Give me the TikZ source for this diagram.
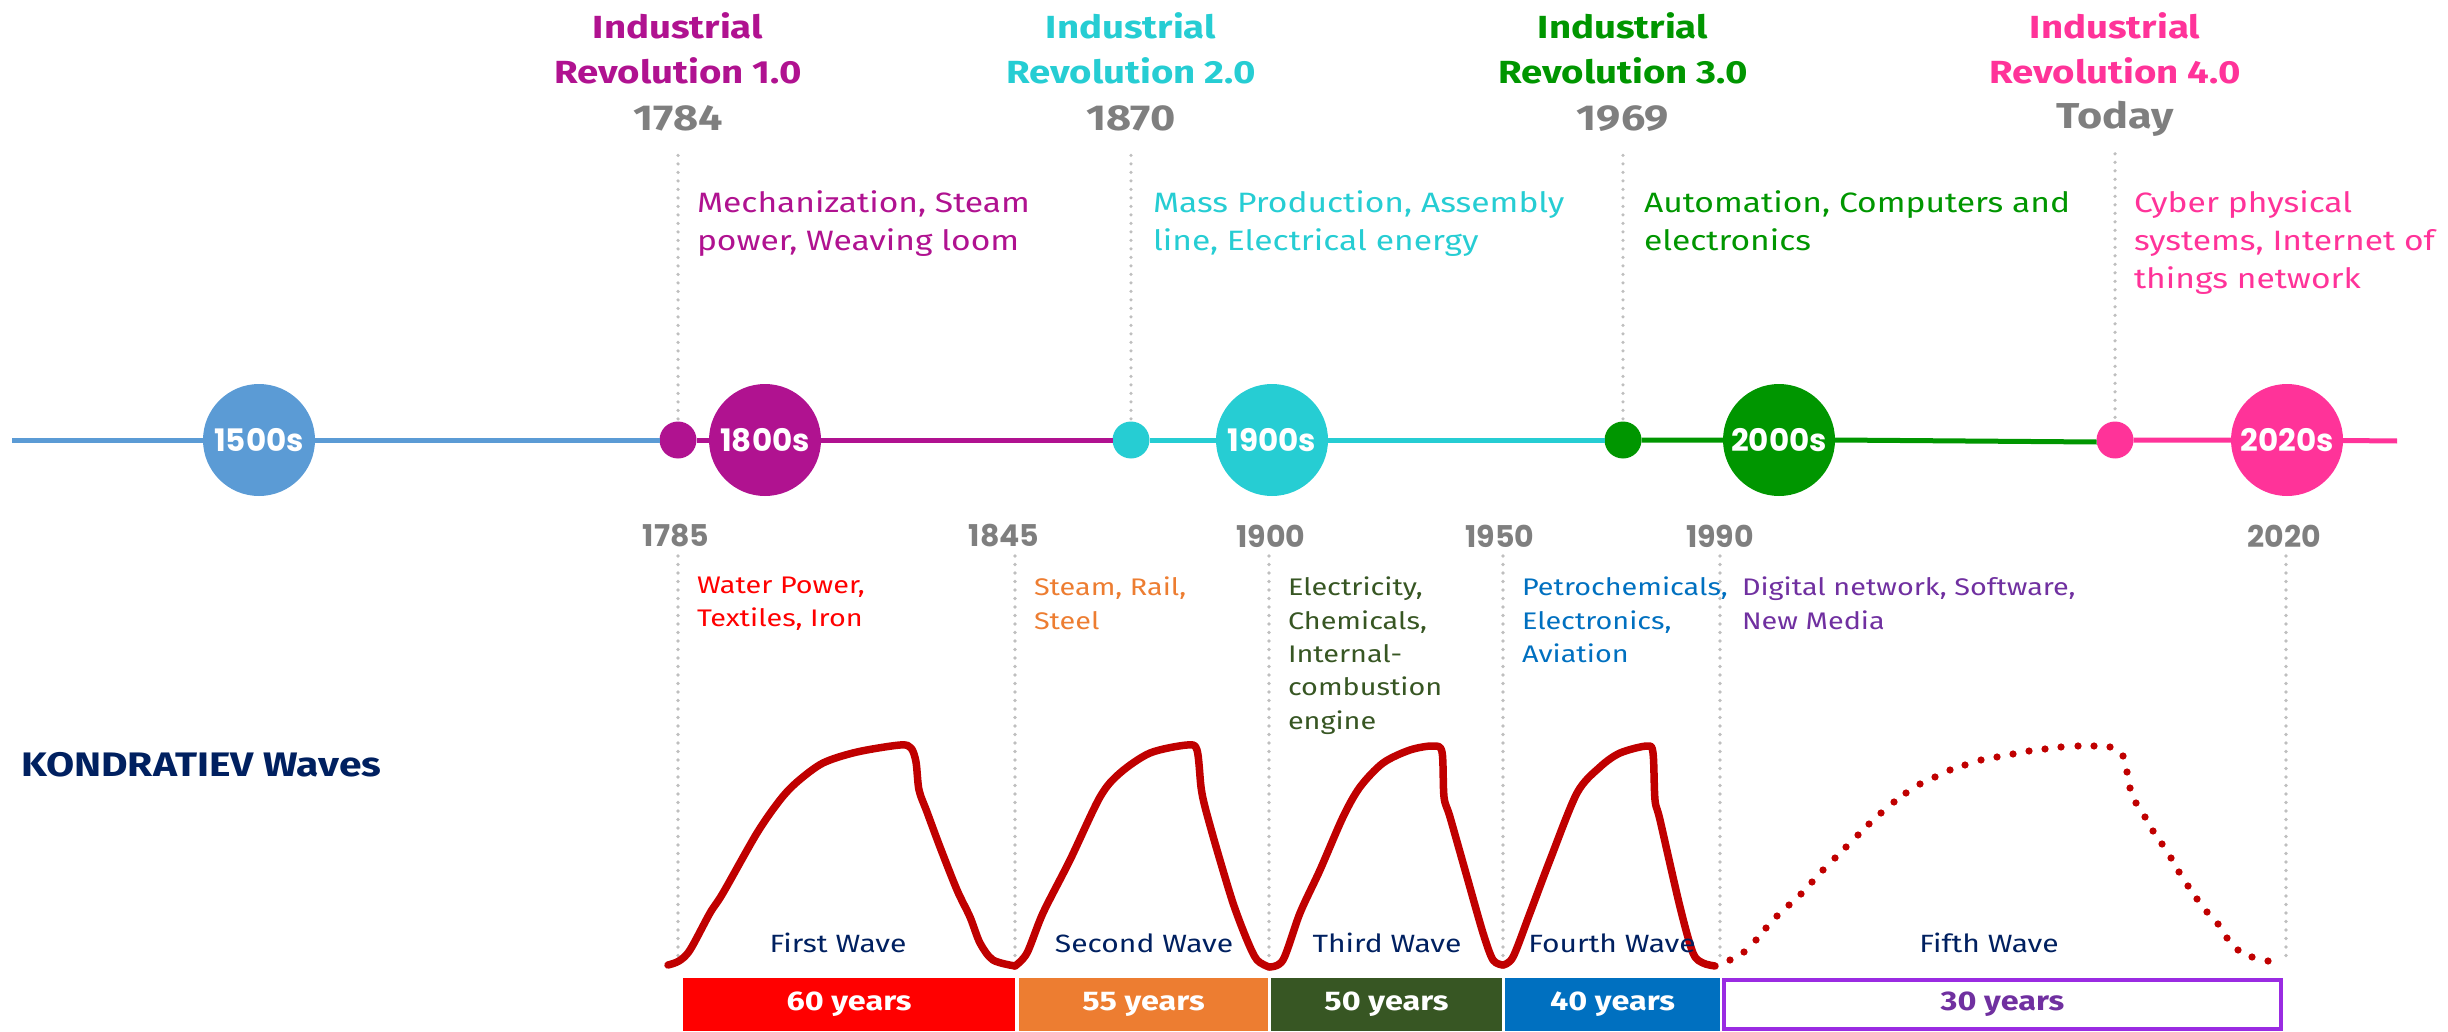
\documentclass[tikz,border=0pt]{standalone}
\usepackage{fontspec}
\usetikzlibrary{positioning}
\newfontfamily\kanit{Fira Sans}[FakeStretch=1.2]
\newfontfamily\mont{Poppins}
\definecolor{erablue}{HTML}{5B9BD5}
\definecolor{ir1}{HTML}{B01290}
\definecolor{ir2}{HTML}{26CDD3}
\definecolor{ir3}{HTML}{009600}
\definecolor{ir4}{HTML}{FF3399}
\definecolor{yeargray}{HTML}{7F7F7F}
\definecolor{guidegray}{HTML}{BFBFBF}
\definecolor{wavered}{HTML}{C00000}
\definecolor{kw1}{HTML}{FF0000}
\definecolor{kw2}{HTML}{ED7D31}
\definecolor{kw3}{HTML}{375623}
\definecolor{kw4}{HTML}{0070C0}
\definecolor{kw5}{HTML}{7030A0}
\definecolor{kw5box}{HTML}{9A2BE2}
\definecolor{navy}{HTML}{002060}

\begin{document}
\begin{tikzpicture}[x=1pt, y=-1pt,
    every node/.style={inner sep=0pt, outer sep=0pt},
    era/.style={circle, fill=#1, minimum size=112pt, text=white, font=\mont\bfseries\fontsize{31}{31}\selectfont},
    smalldot/.style={circle, fill=#1, minimum size=37pt},
    timeline/.style={draw=#1, line width=5pt},
    guide/.style={draw=guidegray, line width=3.6pt, line cap=round, dash pattern=on 0pt off 8.5pt},
    revtitle/.style={text=#1, align=center, anchor=north, font=\kanit\bfseries\fontsize{32}{45}\selectfont},
    topyear/.style={text=yeargray, font=\kanit\bfseries\fontsize{36}{36}\selectfont},
    botyear/.style={text=yeargray, font=\mont\bfseries\fontsize{30}{30}\selectfont},
    topdesc/.style={text=#1, anchor=north west, align=left, font=\kanit\fontsize{28}{38}\selectfont},
    wavedesc/.style={text=#1, anchor=north west, align=left, font=\kanit\fontsize{24}{33.4}\selectfont},
    wavename/.style={text=navy, font=\kanit\fontsize{25}{25}\selectfont},
    span/.style={fill=#1, anchor=north west, minimum height=53pt, text=white, font=\kanit\bfseries\fontsize{27}{27}\selectfont},
    wave/.style={draw=wavered, line width=7.5pt, line cap=round, line join=round},
  ]
  \useasboundingbox (0,0) rectangle (2448,1032);

  % timeline
  \coordinate (tlstart) at (12,440);
  \coordinate (tlend) at (2397,441);
  \node[era=erablue] (c1500) at (259,440) {1500s};
  \node[smalldot=ir1] (d1) at (678,440) {};
  \node[era=ir1] (c1800) at (765,440) {1800s};
  \node[smalldot=ir2] (d2) at (1131,440) {};
  \node[era=ir2] (c1900) at (1272,440) {1900s};
  \node[smalldot=ir3] (d3) at (1623,440) {};
  \node[era=ir3] (c2000) at (1779,440) {2000s};
  \node[smalldot=ir4] (d4) at (2115,440) {};
  \node[era=ir4] (c2020) at (2287,440) {2020s};
  \draw[timeline=erablue] (tlstart) -- (c1500) -- (d1);
  \draw[timeline=ir1] (d1) -- (c1800) -- (d2);
  \draw[timeline=ir2] (d2) -- (c1900) -- (d3);
  \draw[timeline=ir3] (d3) -- (c2000) (c2000.east) -- ([yshift=-2pt]d4.west);
  \draw[timeline=ir4] (d4) -- (c2020) -- (tlend);

  % industrial revolutions
  \node[revtitle=ir1] (r1) at (678,13) {Industrial\\Revolution 1.0};
  \node[revtitle=ir2] (r2) at (1131,13) {Industrial\\Revolution 2.0};
  \node[revtitle=ir3] (r3) at (1623,13) {Industrial\\Revolution 3.0};
  \node[revtitle=ir4] (r4) at (2115,13) {Industrial\\Revolution 4.0};
  \node[topyear, below=21pt of r1] (y1) {1784};
  \node[topyear, below=21pt of r2] (y2) {1870};
  \node[topyear, below=21pt of r3] (y3) {1969};
  \node[topyear, below=17pt of r4] (y4) {Today};
  \foreach \i in {1,...,4}
    \draw[guide] ([yshift=-25pt]y\i.base) -- (d\i);
  \node[topdesc=ir1] (m1) at (697,191) {Mechanization, Steam\\power, Weaving loom};
  \node[topdesc=ir2] (m2) at (1153,191) {Mass Production, Assembly\\line, Electrical energy};
  \node[topdesc=ir3] (m3) at (1644,191) {Automation, Computers and\\electronics};
  \node[topdesc=ir4] (m4) at (2134,191) {Cyber physical\\systems, Internet of\\things network};

  % kondratiev waves
  \node[text=navy, anchor=west, font=\kanit\bfseries\fontsize{34}{34}\selectfont] (kwtitle) at (21,765) {KONDRATIEV Waves};
  \coordinate (wavebase) at (0,963);
  \foreach \x/\lx/\yr in {678/676/1785, 1015/1004/1845, 1269/1271/1900, 1503/1500/1950, 1720/1720/1990, 2286/2284/2020} {
    \node[botyear] (k\yr) at (\lx,536) {\yr};
    \coordinate (g\yr) at (\x,556);
    \draw[guide] (g\yr) -- (g\yr |- wavebase);
  }
  \node[wavedesc=kw1] (w1) at (697,577) {Water Power,\\Textiles, Iron};
  \node[wavedesc=kw2] (w2) at (1034,577) {Steam, Rail,\\Steel};
  \node[wavedesc=kw3] (w3) at (1288,577) {Electricity,\\Chemicals,\\Internal-\\combustion\\engine};
  \node[wavedesc=kw4] (w4) at (1522,577) {Petrochemicals,\\Electronics,\\Aviation};
  \node[wavedesc=kw5] (w5) at (1742,577) {Digital network, Software,\\New Media};

  \draw[wave] plot[smooth, tension=0.5] coordinates {(668,965) (679,961) (690,950) (710,913) (723,893) (757,833) (780,800) (797,782) (823,763) (857,752) (900,745) (911,748) (916,762) (919,790) (927,812) (940,847) (957,890) (970,917) (980,943) (993,960) (1015,966)};
  \draw[wave] plot[smooth, tension=0.5] coordinates {(1015,966) (1027,953) (1043,913) (1070,860) (1100,797) (1120,773) (1150,753) (1187,745) (1197,750) (1201,787) (1205,807) (1217,850) (1233,903) (1247,940) (1257,960) (1269,967)};
  \draw[wave] plot[smooth, tension=0.5] coordinates {(1269,967) (1283,960) (1300,913) (1320,870) (1343,817) (1360,787) (1383,763) (1410,750) (1433,746) (1442,752) (1444,797) (1450,817) (1467,877) (1483,933) (1493,960) (1503,965)};
  \draw[wave] plot[smooth, tension=0.5] coordinates {(1503,965) (1513,957) (1530,913) (1550,860) (1577,793) (1600,767) (1620,753) (1647,746) (1653,753) (1655,800) (1660,820) (1680,907) (1693,953) (1703,963) (1715,966)};
  % fifth wave, still to come
  \foreach \p in {(1730,960), (1744,952), (1756,940), (1766,928), (1777,916), (1789,905), (1801,894), (1812,882), (1823,870), (1835,858), (1846,847), (1858,835), (1869,824), (1881,813), (1894,802), (1906,793), (1920,784), (1935,777), (1950,770), (1965,765), (1981,760), (1997,757), (2013,754), (2029,751), (2045,749), (2061,747), (2078,746), (2094,746), (2110,747), (2123,756), (2127,772), (2130,788), (2136,803), (2145,817), (2153,831), (2162,844), (2171,858), (2179,872), (2188,886), (2197,899), (2207,912), (2218,924), (2227,938), (2238,950), (2252,957), (2268,961)}
    \fill[wavered] \p circle (3.6pt);

  \node[wavename] (n1) at (838,943) {First Wave};
  \node[wavename] (n2) at (1144,943) {Second Wave};
  \node[wavename] (n3) at (1387,943) {Third Wave};
  \node[wavename] (n4) at (1612,943) {Fourth Wave};
  \node[wavename] (n5) at (1989,943) {Fifth Wave};

  \node[span=kw1, minimum width=332pt] (s1) at (683,978) {60 years};
  \node[span=kw2, minimum width=249pt] (s2) at (1019,978) {55 years};
  \node[span=kw3, minimum width=231pt] (s3) at (1271,978) {50 years};
  \node[span=kw4, minimum width=215pt] (s4) at (1505,978) {40 years};
  \node[span=white, draw=kw5box, line width=4pt, minimum width=557pt, minimum height=49pt, text=kw5] (s5) at (1724,980) {30 years};
\end{tikzpicture}
\end{document}
